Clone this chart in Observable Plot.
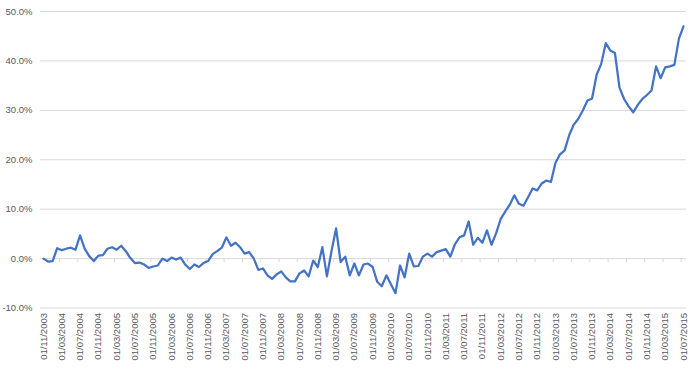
<!DOCTYPE html>
<html>
<head>
<meta charset="utf-8">
<script src="https://cdn.jsdelivr.net/npm/d3@7"></script>
<script src="https://cdn.jsdelivr.net/npm/@observablehq/plot@0.6"></script>
<style>
  html, body { margin: 0; padding: 0; background: #fff; }
  #chart svg { display: block; }
</style>
</head>
<body>
<div id="chart"></div>
<script>
// Monthly values (%), 01/11/2003 .. 01/07/2015
const values = [
  0.0, -0.6, -0.5, 2.1, 1.7, 2.0, 2.2, 1.8, 4.7, 2.0,
  0.5, -0.5, 0.6, 0.7, 2.0, 2.3, 1.8, 2.6, 1.5, 0.1,
  -0.9, -0.8, -1.2, -1.9, -1.6, -1.4, 0.0, -0.5, 0.2, -0.2,
  0.2, -1.2, -2.1, -1.2, -1.7, -0.9, -0.5, 0.9, 1.5, 2.2,
  4.3, 2.6, 3.2, 2.3, 1.0, 1.3, 0.0, -2.3, -2.0, -3.4,
  -4.1, -3.2, -2.6, -3.8, -4.6, -4.6, -3.0, -2.4, -3.6, -0.4,
  -1.7, 2.3, -3.6, 1.5, 6.1, -0.7, 0.4, -3.4, -1.0, -3.4,
  -1.2, -1.0, -1.7, -4.7, -5.6, -3.4, -5.2, -7.0, -1.4, -3.8,
  1.0, -1.6, -1.5, 0.4, 1.0, 0.4, 1.3, 1.6, 1.9, 0.4,
  2.9, 4.3, 4.7, 7.5, 2.8, 4.2, 3.2, 5.7, 2.8, 5.1,
  8.0, 9.5, 10.9, 12.8, 11.1, 10.7, 12.4, 14.2, 13.8, 15.2,
  15.8, 15.5, 19.4, 21.1, 21.9, 25.0, 27.1, 28.3, 30.0, 32.0,
  32.4, 37.2, 39.4, 43.6, 42.1, 41.6, 34.6, 32.3, 30.8, 29.6,
  31.1, 32.3, 33.1, 34.0, 38.9, 36.5, 38.7, 38.9, 39.2, 44.5,
  47.0
];

// X tick labels (every 4th month)
const tickLabels = [
  "01/11/2003","01/03/2004","01/07/2004","01/11/2004","01/03/2005","01/07/2005",
  "01/11/2005","01/03/2006","01/07/2006","01/11/2006","01/03/2007","01/07/2007",
  "01/11/2007","01/03/2008","01/07/2008","01/11/2008","01/03/2009","01/07/2009",
  "01/11/2009","01/03/2010","01/07/2010","01/11/2010","01/03/2011","01/07/2011",
  "01/11/2011","01/03/2012","01/07/2012","01/11/2012","01/03/2013","01/07/2013",
  "01/11/2013","01/03/2014","01/07/2014","01/11/2014","01/03/2015","01/07/2015"
];

const yTicks = [-10, 0, 10, 20, 30, 40, 50];

const tickIdx = tickLabels.map((d, i) => i * 4);
const minorTicks = tickIdx.slice(0, -1).map(i => i + 3.5);

const chart = Plot.plot({
  width: 694,
  height: 369,
  marginLeft: 40,
  marginRight: 8,
  marginTop: 11,
  marginBottom: 61.5,
  style: { fontFamily: "'Liberation Sans', Arial, sans-serif", fontSize: "9.5px", color: "#595959", background: "#fff" },
  x: { type: "linear", domain: [-0.656, 140.656] },
  y: { domain: [-10, 50] },
  marks: [
    Plot.gridY(yTicks, { stroke: "#d9d9d9", strokeOpacity: 1, strokeWidth: 1 }),
    Plot.ruleX(minorTicks, { x: d => d, y1: 0, y2: 0, insetBottom: -4, stroke: "#d9d9d9" }),
    Plot.axisY(yTicks, { tickSize: 0, tickPadding: 8, tickFormat: d => d.toFixed(1) + "%", fontSize: 9.5 }),
    Plot.axisX(tickIdx, { tickSize: 0, tickPadding: 5, tickRotate: -90, tickFormat: i => tickLabels[i / 4], fontSize: 9.5 }),
    Plot.line(values, { x: (d, i) => i, y: d => d, stroke: "#4472c4", strokeWidth: 2.25, strokeLinejoin: "round" })
  ]
});
document.getElementById("chart").appendChild(chart);
</script>
</body>
</html>
